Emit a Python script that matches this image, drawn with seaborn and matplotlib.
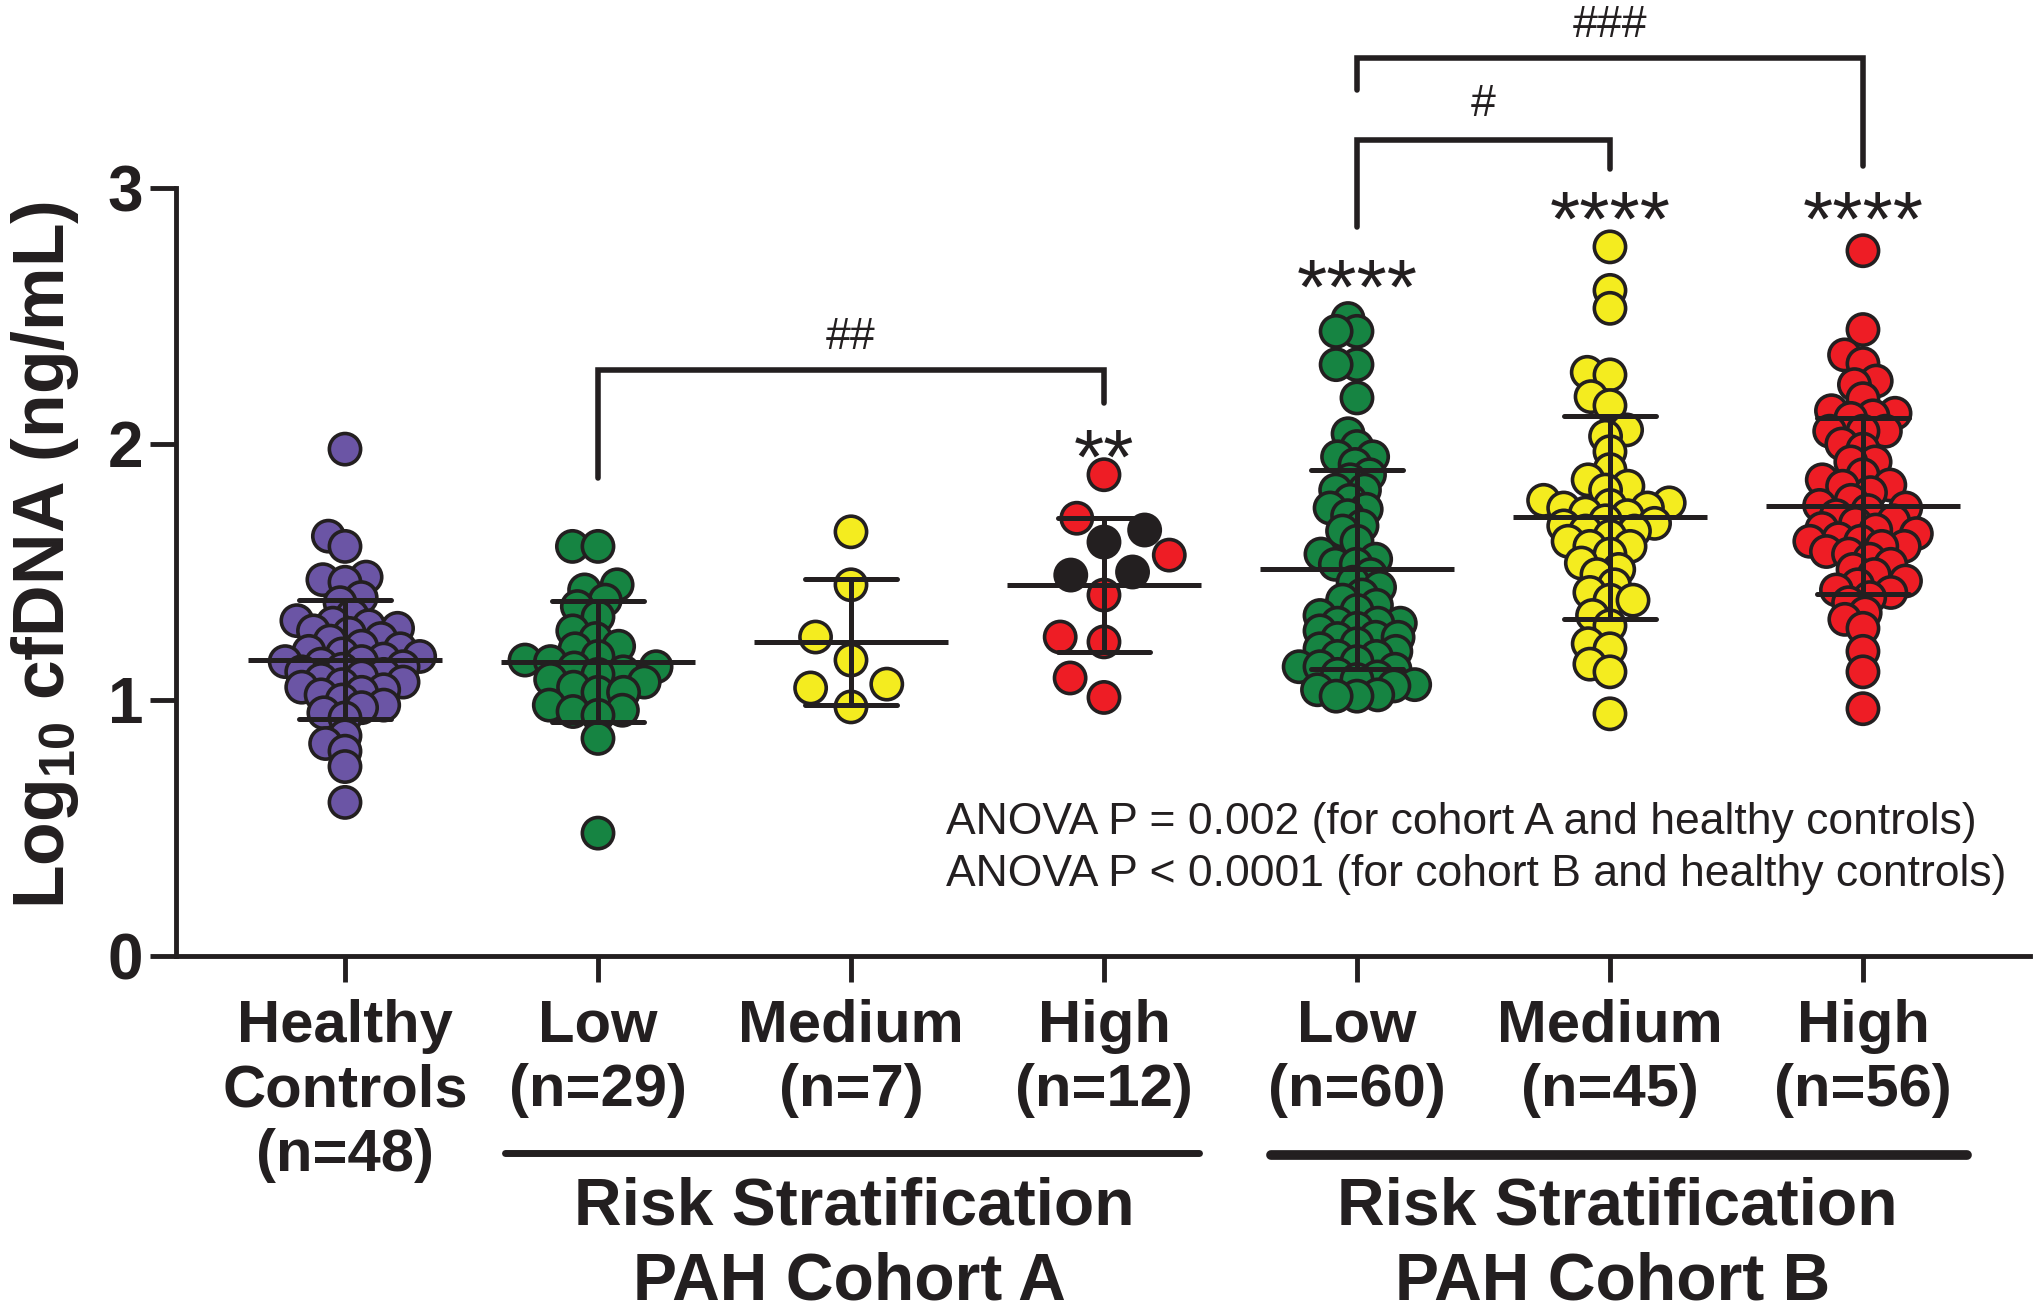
import numpy as np
import pandas as pd
import matplotlib
matplotlib.use("Agg")
import matplotlib.pyplot as plt
import matplotlib.transforms as mtransforms
import seaborn as sns

# ---------------- data ----------------
group_keys = ["HC", "A_Low", "A_Medium", "A_High", "B_Low", "B_Medium", "B_High"]
tick_labels = ["Healthy\nControls\n(n=48)", "Low\n(n=29)", "Medium\n(n=7)", "High\n(n=12)",
               "Low\n(n=60)", "Medium\n(n=45)", "High\n(n=56)"]

healthy = [1.98, 1.64, 1.60, 1.48, 1.47, 1.46, 1.40, 1.38, 1.33, 1.31, 1.30, 1.29, 1.28, 1.27,
           1.26, 1.24, 1.23, 1.21, 1.20, 1.19, 1.18, 1.17, 1.16, 1.15, 1.15, 1.14, 1.13, 1.12,
           1.11, 1.10, 1.09, 1.08, 1.07, 1.06, 1.05, 1.04, 1.03, 1.02, 1.00, 0.98, 0.97, 0.95,
           0.93, 0.86, 0.83, 0.80, 0.74, 0.60]
a_low = [1.60, 1.60, 1.45, 1.43, 1.39, 1.365, 1.325, 1.27, 1.24, 1.21, 1.20, 1.17, 1.156, 1.15,
         1.13, 1.125, 1.11, 1.10, 1.08, 1.07, 1.05, 1.03, 1.03, 0.98, 0.96, 0.955, 0.94, 0.85, 0.48]
a_medium = [1.657, 1.45, 1.246, 1.156, 1.062, 1.047, 0.973]
a_high_red = [1.88, 1.71, 1.566, 1.41, 1.227, 1.246, 1.086, 1.01]
a_high_black = [1.664, 1.617, 1.50, 1.488]
b_low = [2.49, 2.44, 2.44, 2.31, 2.31, 2.18, 2.04, 1.99, 1.95, 1.95, 1.92, 1.88, 1.86, 1.82, 1.82,
         1.78, 1.75, 1.745, 1.72, 1.68, 1.66, 1.62, 1.57, 1.55, 1.53, 1.53, 1.49, 1.46, 1.44, 1.41,
         1.39, 1.37, 1.35, 1.33, 1.30, 1.30, 1.30, 1.28, 1.27, 1.245, 1.245, 1.24, 1.22, 1.20, 1.19,
         1.17, 1.17, 1.15, 1.13, 1.13, 1.12, 1.10, 1.09, 1.08, 1.06, 1.055, 1.04, 1.02, 1.015, 1.015]
b_medium = [2.77, 2.60, 2.53, 2.28, 2.27, 2.185, 2.15, 2.055, 2.03, 1.97, 1.90, 1.86, 1.835, 1.82,
            1.78, 1.77, 1.76, 1.75, 1.75, 1.73, 1.72, 1.70, 1.69, 1.68, 1.66, 1.66, 1.64, 1.62,
            1.60, 1.60, 1.57, 1.535, 1.51, 1.49, 1.45, 1.42, 1.39, 1.39, 1.33, 1.29, 1.22, 1.20,
            1.14, 1.11, 0.946]
b_high = [2.755, 2.447, 2.348, 2.314, 2.246, 2.232, 2.177, 2.13, 2.12, 2.11, 2.10, 2.05, 2.05,
          2.05, 2.00, 1.98, 1.93, 1.93, 1.88, 1.86, 1.84, 1.835, 1.81, 1.78, 1.76, 1.75, 1.74,
          1.72, 1.70, 1.69, 1.67, 1.664, 1.65, 1.63, 1.62, 1.62, 1.60, 1.60, 1.58, 1.57, 1.55,
          1.53, 1.51, 1.49, 1.465, 1.45, 1.43, 1.42, 1.40, 1.38, 1.34, 1.315, 1.28, 1.19, 1.11, 0.966]

# mean and SD lines as drawn in the figure
means = [1.157, 1.15, 1.225, 1.45, 1.51, 1.714, 1.758]
sds = [0.232, 0.235, 0.246, 0.262, 0.387, 0.397, 0.345]

colour_values = {"purple": "#6B55A5", "green": "#168442", "yellow": "#F4EC1F",
                 "red": "#EE1D25", "black": "#231F20"}

# ---------------- build long table ----------------
rows = []
for key, vals, col in [("HC", healthy, "purple"), ("A_Low", a_low, "green"),
                       ("A_Medium", a_medium, "yellow"), ("A_High", a_high_red, "red"),
                       ("A_High", a_high_black, "black"), ("B_Low", b_low, "green"),
                       ("B_Medium", b_medium, "yellow"), ("B_High", b_high, "red")]:
    for v in vals:
        rows.append((key, v, col))
df = pd.DataFrame(rows, columns=["group", "value", "colour"])

# ---------------- style ----------------
sns.set_theme(style="ticks")
plt.rcParams["font.family"] = ["Liberation Sans", "DejaVu Sans"]
INK = "#231F20"

fig = plt.figure(figsize=(20.4, 13.11), dpi=100)
ax = fig.add_axes([0.08627, 0.27079, 0.9088, 0.7225])

MARKER = 22.5     # marker diameter (pt)
EDGE = 2.6
sns.swarmplot(data=df, x="group", y="value", hue="colour", order=group_keys,
              hue_order=list(colour_values), palette=colour_values, size=MARKER,
              linewidth=EDGE, edgecolor=INK, legend=False, ax=ax, zorder=2)

# GraphPad-style overlapping swarm: lay out with adjusted collision size, then set real size
squeeze = [0.6, 0.7, 1.45, 1.3, 0.55, 0.62, 0.6]
point_cols = [c for c in ax.collections if len(c.get_offsets()) > 0]
for c, f in zip(point_cols, squeeze):
    c.set_sizes([(MARKER * f) ** 2])
fig.canvas.draw()
for c in point_cols:
    if "draw" in c.__dict__:
        del c.draw
    c.set_sizes([MARKER ** 2])

# mean +/- SD
x = np.arange(len(group_keys))
m = np.array(means)
s = np.array(sds)
LW = 3.6
ax.hlines(m, x - 0.385, x + 0.385, color=INK, lw=LW, zorder=4)
caps_hi = ax.hlines(m + s, x - 0.18, x + 0.18, color=INK, lw=LW, zorder=4)
caps_lo = ax.hlines(m - s, x - 0.18, x + 0.18, color=INK, lw=LW, zorder=4)
caps_hi.set_capstyle("round")
caps_lo.set_capstyle("round")
ax.vlines(x, m - s, m + s, color=INK, lw=LW, zorder=4)

# axes
ax.set_xlim(-0.668, 6.66)
ax.set_ylim(0, 3.7)
ax.set_yticks([0, 1, 2, 3])
ax.set_yticklabels(["0", "1", "2", "3"], fontsize=46, fontweight="bold", color=INK)
ax.set_xticks(x)
ax.set_xticklabels(tick_labels, fontsize=43, fontweight="bold", color=INK, linespacing=1.22)
ax.tick_params(axis="both", length=18.7, width=3.5, color=INK)
ax.tick_params(axis="x", pad=12)
ax.tick_params(axis="y", pad=5)
ax.set_xlabel("")
ax.set_ylabel("")
for side in ["top", "right"]:
    ax.spines[side].set_visible(False)
for side in ["left", "bottom"]:
    ax.spines[side].set_linewidth(3.5)
    ax.spines[side].set_color(INK)
ax.spines["left"].set_bounds(0, 3)
ax.patch.set_alpha(0)

fig.text(0.022, 0.577, r"Log$_{\mathregular{10}}$ cfDNA (ng/mL)", rotation=90,
         ha="center", va="center", fontsize=51.5, fontweight="bold", color=INK)

# significance brackets
BL = 4.0
def bracket(x0, x1, y0, ytop, y1):
    ax.plot([x0, x0, x1, x1], [y0, ytop, ytop, y1], color=INK, lw=BL,
            solid_capstyle="round", solid_joinstyle="miter", clip_on=False, zorder=5)

bracket(1, 3, 1.866, 2.288, 2.16)
bracket(4, 5, 2.847, 3.188, 3.076)
bracket(4, 6, 3.381, 3.508, 3.086)
ax.text(2, 2.37, "##", ha="center", va="baseline", fontsize=32, color=INK)
ax.text(4.5, 3.28, "#", ha="center", va="baseline", fontsize=32, color=INK)
ax.text(5, 3.59, "###", ha="center", va="baseline", fontsize=32, color=INK, clip_on=False)

ax.text(3, 1.845, "**", ha="center", va="baseline", fontsize=56, color=INK)
ax.text(4, 2.51, "****", ha="center", va="baseline", fontsize=56, color=INK)
ax.text(5, 2.775, "****", ha="center", va="baseline", fontsize=56, color=INK)
ax.text(6, 2.775, "****", ha="center", va="baseline", fontsize=56, color=INK)

ax.text(2.377, 0.523, "ANOVA P = 0.002 (for cohort A and healthy controls)",
        ha="left", va="center", fontsize=32, color=INK)
ax.text(2.377, 0.32, "ANOVA P < 0.0001 (for cohort B and healthy controls)",
        ha="left", va="center", fontsize=32, color=INK)

# cohort group labels
trans = mtransforms.blended_transform_factory(ax.transData, fig.transFigure)
ax.plot([0.632, 3.375], [0.1205, 0.1205], transform=trans, color=INK, lw=5,
        solid_capstyle="round", clip_on=False)
ax.plot([3.66, 6.41], [0.119, 0.119], transform=trans, color=INK, lw=7,
        solid_capstyle="round", clip_on=False)
for cx, name in [(2.013, "PAH Cohort A"), (5.03, "PAH Cohort B")]:
    ax.text(cx, 0.0793, "Risk Stratification", transform=trans, ha="center", va="center",
            fontsize=47.5, fontweight="bold", color=INK)
    ax.text(cx - 0.02, 0.0221, name, transform=trans, ha="center", va="center",
            fontsize=47.5, fontweight="bold", color=INK)

fig.savefig("out.png", dpi=100, facecolor="white")
